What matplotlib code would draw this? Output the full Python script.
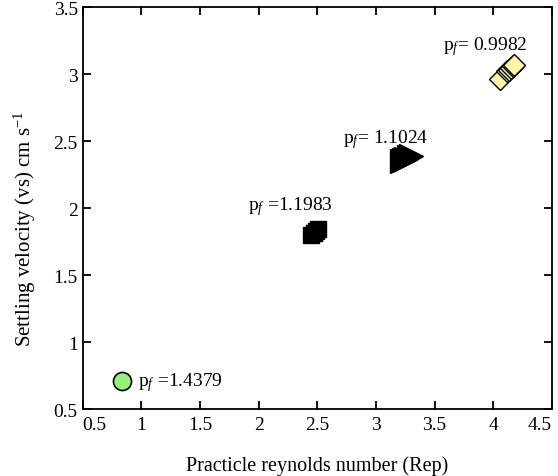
import matplotlib
matplotlib.use('Agg')
import matplotlib.pyplot as plt

plt.rcParams['font.family'] = 'Liberation Serif'
plt.rcParams['mathtext.fontset'] = 'custom'
plt.rcParams['mathtext.rm'] = 'Liberation Serif'
plt.rcParams['mathtext.it'] = 'Liberation Serif:italic'

# groups of points (Rep, vs)
circle_x = [0.84]
circle_y = [0.71]
square_x = [2.45, 2.47, 2.49, 2.51]
square_y = [1.80, 1.815, 1.83, 1.845]
tri_x = [3.22, 3.24, 3.26, 3.28, 3.30]
tri_y = [2.35, 2.36, 2.37, 2.38, 2.39]
dia_x = [4.06, 4.12, 4.135, 4.15, 4.165, 4.18]
dia_y = [2.965, 3.02, 3.032, 3.045, 3.057, 3.07]

labels = [r'p$_{\mathit{f}}$ =1.4379', r'p$_{\mathit{f}}$ =1.1983',
          r'p$_{\mathit{f}}$= 1.1024', r'p$_{\mathit{f}}$= 0.9982']
label_pos = [(0.975, 0.71), (1.91, 2.02), (2.72, 2.52), (3.57, 3.21)]

xticks = [0.5, 1, 1.5, 2, 2.5, 3, 3.5, 4, 4.5]
yticks = [0.5, 1, 1.5, 2, 2.5, 3, 3.5]

fig = plt.figure(figsize=(5.58, 4.77), dpi=100)
ax = fig.add_axes([0.148, 0.140, 0.841, 0.843])

ax.plot(circle_x, circle_y, 'o', ms=13, mfc='#98f07a', mec='black', mew=1.2)
ax.plot(square_x, square_y, 's', ms=12, color='black')
ax.plot(tri_x, tri_y, '>', ms=17, color='black')
ax.plot(dia_x, dia_y, 'D', ms=11.5, mfc='#fbf5a5', mec='black', mew=1.0)

for t, (x, y) in zip(labels, label_pos):
    ax.text(x, y, t, fontsize=14, va='center', ha='left')

ax.set_xlim(0.5, 4.5)
ax.set_ylim(0.5, 3.5)
ax.set_xticks(xticks)
ax.set_xticklabels([f'{v:g}' for v in xticks])
ax.set_yticks(yticks)
ax.set_yticklabels([f'{v:g}' for v in yticks])
ax.tick_params(direction='in', top=True, right=True, length=6, width=1.3,
               labelsize=14)
ax.tick_params(axis='x', pad=5)
xl = ax.get_xticklabels()
xl[0].set_ha('left')
xl[-1].set_ha('right')
for s in ax.spines.values():
    s.set_linewidth(1.3)

ax.set_xlabel('Practicle reynolds number (Rep)', fontsize=14.5, labelpad=16)
ax.set_ylabel(r'Settling velocity (vs) cm s$^{-1}$', fontsize=15)
ax.yaxis.set_label_coords(-0.095, 0.45)

fig.savefig('out.png', dpi=100)
